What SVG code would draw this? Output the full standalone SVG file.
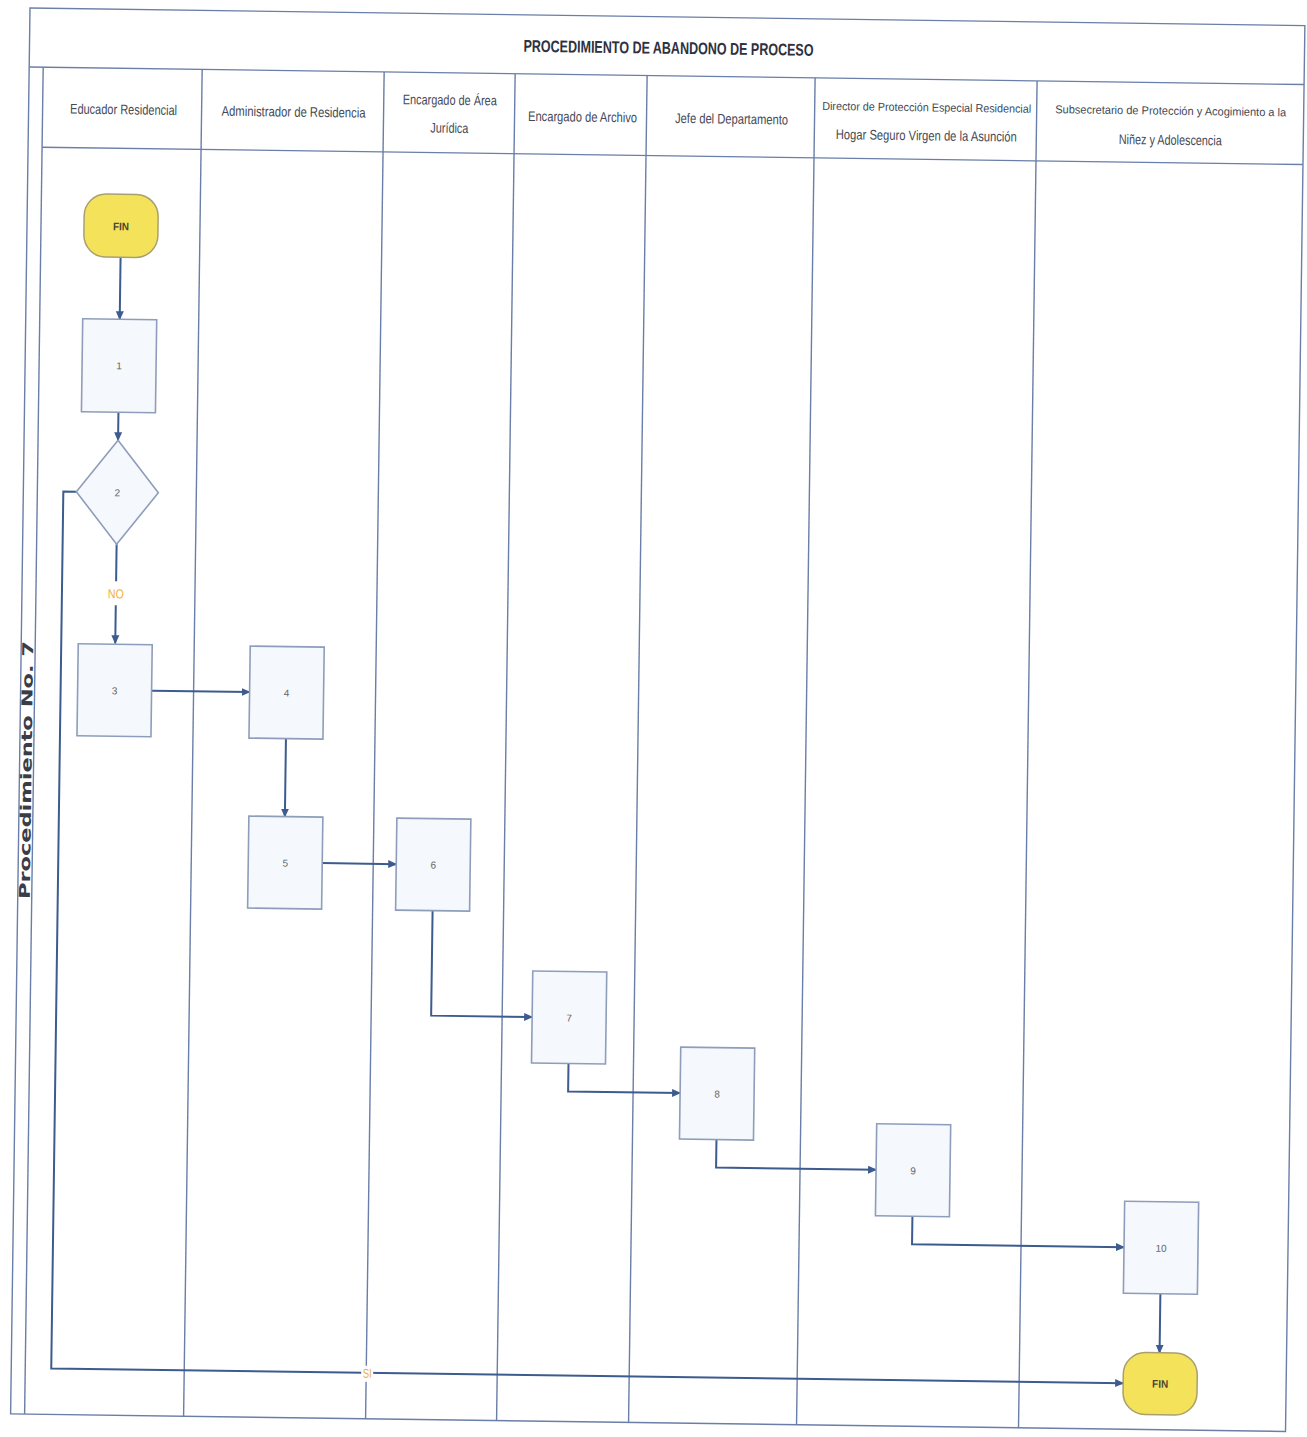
<svg xmlns="http://www.w3.org/2000/svg" width="1307" height="1437" viewBox="0 0 1307 1437">
<style>
.lane{stroke:#6a7ea8;stroke-width:1.4;fill:none}
.hdr{font-family:"Liberation Sans",Arial,sans-serif;font-size:14px;fill:#444955;text-anchor:middle}
.hdrs{font-family:"Liberation Sans",Arial,sans-serif;font-size:11.5px;fill:#444955;text-anchor:middle}
.title{font-family:"Liberation Sans",Arial,sans-serif;font-size:17px;font-weight:bold;fill:#2e3140;text-anchor:middle}
.box{fill:#f5f8fc;stroke:#8e9dbb;stroke-width:1.6}
.num{font-family:"Liberation Sans",Arial,sans-serif;font-size:10px;fill:#666;text-anchor:middle}
.term{fill:#f4e35a;stroke:#a9a070;stroke-width:1.5}
.termt{font-family:"Liberation Sans",Arial,sans-serif;font-size:11px;font-weight:bold;fill:#4a4630;text-anchor:middle}
.conn{stroke:#3c5b8e;stroke-width:2;fill:none}
.lbl{font-family:"Liberation Sans",Arial,sans-serif;font-size:13px;fill:#f0b040;text-anchor:middle}
.side{font-family:"DejaVu Sans",Verdana,sans-serif;font-size:15px;font-weight:bold;fill:#3a3d48;text-anchor:middle}
</style>
<defs>
<marker id="arr" markerWidth="10" markerHeight="10" refX="8" refY="5" orient="auto" markerUnits="userSpaceOnUse">
<path d="M0,1 L9,5 L0,9 Z" fill="#3c5b8e"/>
</marker>
</defs>
<rect width="1307" height="1437" fill="#ffffff"/>
<g transform="rotate(0.79 30 8)">
<g id="frame">
<rect x="30" y="8" width="1275" height="1406" class="lane"/>
<line x1="30" y1="67" x2="1305" y2="67" class="lane"/>
<line x1="44" y1="147" x2="1305" y2="147" class="lane"/>
<line x1="44" y1="67" x2="44" y2="1414" class="lane"/>
<line x1="203" y1="67" x2="203" y2="1414" class="lane"/>
<line x1="385" y1="67" x2="385" y2="1414" class="lane"/>
<line x1="516" y1="67" x2="516" y2="1414" class="lane"/>
<line x1="648" y1="67" x2="648" y2="1414" class="lane"/>
<line x1="816" y1="67" x2="816" y2="1414" class="lane"/>
<line x1="1038" y1="67" x2="1038" y2="1414" class="lane"/>
<text x="669" y="45" class="title" textLength="290" lengthAdjust="spacingAndGlyphs">PROCEDIMIENTO DE ABANDONO DE PROCESO</text>
<text x="37" y="770" class="side" transform="rotate(-90 37 770)" dy="5" textLength="258" lengthAdjust="spacingAndGlyphs">Procedimiento No. 7</text>
</g>
<g id="headers">
<text x="125" y="113" class="hdr" textLength="107" lengthAdjust="spacingAndGlyphs">Educador Residencial</text>
<text x="295" y="113" class="hdr" textLength="144" lengthAdjust="spacingAndGlyphs">Administrador de  Residencia</text>
<text x="451" y="99" class="hdr" textLength="94" lengthAdjust="spacingAndGlyphs">Encargado de Área</text>
<text x="451" y="127" class="hdr" textLength="38" lengthAdjust="spacingAndGlyphs">Jurídica</text>
<text x="584" y="114" class="hdr" textLength="109" lengthAdjust="spacingAndGlyphs">Encargado de Archivo</text>
<text x="733" y="114" class="hdr" textLength="113" lengthAdjust="spacingAndGlyphs">Jefe del Departamento</text>
<text x="928" y="99" class="hdrs" textLength="209" lengthAdjust="spacingAndGlyphs">Director de Protección Especial Residencial</text>
<text x="928" y="128" class="hdr" textLength="181" lengthAdjust="spacingAndGlyphs">Hogar Seguro Virgen de la Asunción</text>
<text x="1172" y="99" class="hdrs" textLength="231" lengthAdjust="spacingAndGlyphs">Subsecretario de Protección y Acogimiento a la</text>
<text x="1172" y="129" class="hdr" textLength="103" lengthAdjust="spacingAndGlyphs">Niñez y Adolescencia</text>
</g>
<g id="connectors">
<line x1="124" y1="256" x2="124" y2="318" class="conn" marker-end="url(#arr)"/>
<line x1="124" y1="411" x2="124" y2="439" class="conn" marker-end="url(#arr)"/>
<line x1="124" y1="543" x2="124" y2="580" class="conn"/>
<line x1="124" y1="604" x2="124" y2="642" class="conn" marker-end="url(#arr)"/>
<text x="124" y="597" class="lbl" textLength="16" lengthAdjust="spacingAndGlyphs">NO</text>
<line x1="161" y1="689" x2="259" y2="689" class="conn" marker-end="url(#arr)"/>
<line x1="296" y1="735" x2="296" y2="813" class="conn" marker-end="url(#arr)"/>
<line x1="334" y1="859" x2="408" y2="859" class="conn" marker-end="url(#arr)"/>
<path d="M445,905 V1010 H546" class="conn" marker-end="url(#arr)"/>
<path d="M583,1056 V1084 H695" class="conn" marker-end="url(#arr)"/>
<path d="M732,1130 V1158 H892" class="conn" marker-end="url(#arr)"/>
<path d="M929,1204 V1232 H1141" class="conn" marker-end="url(#arr)"/>
<line x1="1178" y1="1278" x2="1178" y2="1337" class="conn" marker-end="url(#arr)"/>
<path d="M83,491 H70 V1368 H1142" class="conn" marker-end="url(#arr)"/>
<rect x="380" y="1361" width="12" height="16" fill="#ffffff"/>
<text x="386" y="1373" class="lbl" textLength="9" lengthAdjust="spacingAndGlyphs">SI</text>
</g>
<g id="start">
<rect x="87" y="193" width="74" height="63" rx="22" class="term"/>
<text x="124" y="229" class="termt" textLength="16" lengthAdjust="spacingAndGlyphs">FIN</text>
</g>
<g id="n1"><rect x="87" y="318" width="74" height="93" class="box"/><text x="124" y="368" class="num">1</text></g>
<g id="n2"><path d="M124,439 L165,491 L124,543 L83,491 Z" class="box"/><text x="124" y="495" class="num">2</text></g>
<g id="n3"><rect x="87" y="643" width="74" height="92" class="box"/><text x="124" y="693" class="num">3</text></g>
<g id="n4"><rect x="259" y="643" width="74" height="92" class="box"/><text x="296" y="693" class="num">4</text></g>
<g id="n5"><rect x="260" y="813" width="74" height="92" class="box"/><text x="297" y="863" class="num">5</text></g>
<g id="n6"><rect x="408" y="813" width="74" height="92" class="box"/><text x="445" y="863" class="num">6</text></g>
<g id="n7"><rect x="546" y="964" width="74" height="92" class="box"/><text x="583" y="1014" class="num">7</text></g>
<g id="n8"><rect x="695" y="1038" width="74" height="92" class="box"/><text x="732" y="1088" class="num">8</text></g>
<g id="n9"><rect x="892" y="1112" width="74" height="92" class="box"/><text x="929" y="1162" class="num">9</text></g>
<g id="n10"><rect x="1141" y="1186" width="74" height="92" class="box"/><text x="1178" y="1236" class="num">10</text></g>
<g id="end">
<rect x="1142" y="1337" width="74" height="62" rx="22" class="term"/>
<text x="1179" y="1372" class="termt" textLength="16" lengthAdjust="spacingAndGlyphs">FIN</text>
</g>
</g>
</svg>
